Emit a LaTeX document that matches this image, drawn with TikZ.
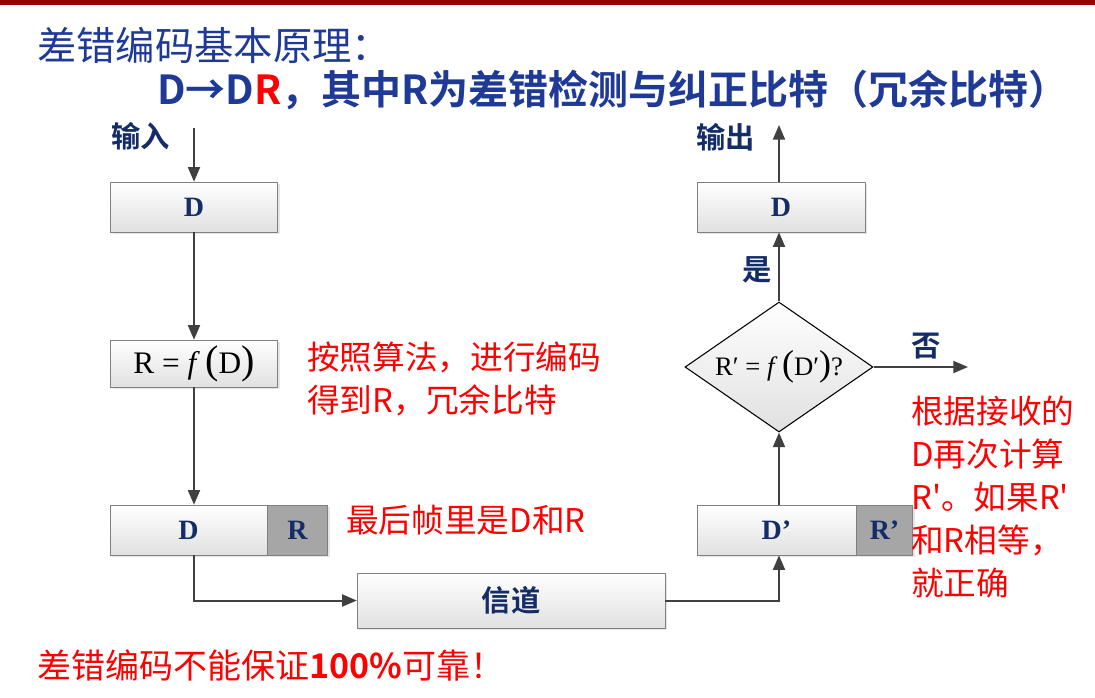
\documentclass[tikz,border=0pt]{standalone}
\usepackage{fontspec}
\setmainfont{Noto Sans CJK SC}[BoldFont={Noto Sans CJK SC Bold}]
\newfontfamily\plainfont{Noto Sans CJK SC}[Ligatures=TeXOff]
\newfontfamily\serif{Liberation Serif}
\usetikzlibrary{shapes.geometric,arrows.meta,shadows}
\definecolor{titleblue}{RGB}{31,58,150}
\definecolor{navy}{RGB}{20,45,105}
\definecolor{barred}{RGB}{150,0,0}
\definecolor{boxline}{RGB}{128,128,128}
\definecolor{arrowgray}{RGB}{64,64,64}
\definecolor{cellgray}{RGB}{166,166,166}
\tikzset{
  box/.style={draw=boxline, top color=white, bottom color=black!12, inner sep=0pt,
    drop shadow={opacity=.2, shadow xshift=1.5pt, shadow yshift=-1.5pt}},
  cell/.style={draw=boxline, fill=cellgray, inner sep=0pt,
    drop shadow={opacity=.2, shadow xshift=1.5pt, shadow yshift=-1.5pt}},
  flow/.style={draw=arrowgray, line width=1.5pt, -{Triangle[length=11pt,width=9pt]}},
  boxtxt/.style={text=navy, font=\serif\bfseries\fontsize{21}{24}\selectfont},
  lbl/.style={text=navy, inner sep=0pt, font=\bfseries\fontsize{22}{26}\selectfont},
  note/.style={text=red, align=left, inner sep=0pt, font=\plainfont\fontsize{24.5}{32.25}\selectfont},
}
\begin{document}
\begin{tikzpicture}[x=0.75pt,y=-0.75pt]
\useasboundingbox (0,0) rectangle (1095,697);
\fill[barred] (0,0) rectangle (1095,5);
% titles
\node[anchor=west, inner sep=0pt, text=titleblue, font=\fontsize{29.5}{34}\selectfont] (title) at (37,45) {差错编码基本原理：};
\node[anchor=west, inner sep=0pt, text=titleblue, font=\bfseries\fontsize{30}{34}\selectfont] (rule) at (157,90) {D→D\textcolor{red}{R}，其中R为差错检测与纠正比特（冗余比特）};
% sender side
\node[box, minimum width=125.25pt, minimum height=37.5pt, boxtxt] (d1) at (194,207) {D};
\node[box, minimum width=125.25pt, minimum height=35.25pt] (calc) at (194,363.5)
  {\serif\fontsize{23.5}{26}\selectfont R = \textit{f}\,{\fontsize{30}{30}\selectfont(}D{\fontsize{30}{30}\selectfont)}};
\node[box, minimum width=117.75pt, minimum height=37.5pt, boxtxt] (d3) at (188.5,530) {D};
\node[cell, minimum width=45pt, minimum height=37.5pt, boxtxt, anchor=west] (r3) at (d3.east) {R};
\node[box, minimum width=231pt, minimum height=41.25pt, lbl] (chan) at (511,600.5) {信道};
% receiver side
\node[box, minimum width=119.25pt, minimum height=37.5pt, boxtxt] (d4) at (776.5,530) {D’};
\node[cell, minimum width=42pt, minimum height=37.5pt, boxtxt, anchor=west] (r4) at (d4.east) {R’};
\node[diamond, aspect=1.45, draw=black, line width=.8pt, top color=white, bottom color=black!12,
  minimum width=141pt, minimum height=97.5pt, inner sep=0pt] (check) at (779,367)
  {\serif\fontsize{20}{23}\selectfont R′ = \textit{f}\,{\fontsize{27}{27}\selectfont(}D′{\fontsize{27}{27}\selectfont)}?};
\node[box, minimum width=126pt, minimum height=37.5pt, boxtxt] (d5) at (781,207) {D};
\coordinate (in) at (194,128);
\coordinate (out) at (779,125);
\coordinate (no) at (968,367);
% connectors
\draw[flow] (in) -- (d1);
\draw[flow] (d1) -- (calc);
\draw[flow] (calc.south) -- (calc.south |- d3.north);
\draw[flow] (calc.south |- d3.south) |- (chan.west);
\draw[flow] (chan.east) -| (check.south |- d4.south);
\draw[flow] (check.south |- d4.north) -- (check.south);
\draw[flow] (check.north) -- (check.north |- d5.south);
\draw[flow] (check.north |- d5.north) -- (out);
\draw[flow] (check.east) -- (no);
% labels
\node[lbl, anchor=west] (inlbl) at (111,136) {输入};
\node[lbl, anchor=west] (outlbl) at (696,137) {输出};
\node[lbl] (yes) at (757,270) {是};
\node[lbl] (nolbl) at (926,346) {否};
% notes
\node[note, anchor=west] (note1) at (307,378.5) {按照算法，进行编码\\得到R，冗余比特};
\node[note, anchor=west] (note2) at (346,520) {最后帧里是D和R};
\node[note, anchor=west] (note3) at (911,497.5) {根据接收的\\D再次计算\\R'。如果R'\\和R相等，\\就正确};
\node[anchor=west, inner sep=0pt, text=red, font=\fontsize{25.5}{30}\selectfont] (warn) at (37,665) {差错编码不能保证\textbf{100\%}可靠！};
\end{tikzpicture}
\end{document}
